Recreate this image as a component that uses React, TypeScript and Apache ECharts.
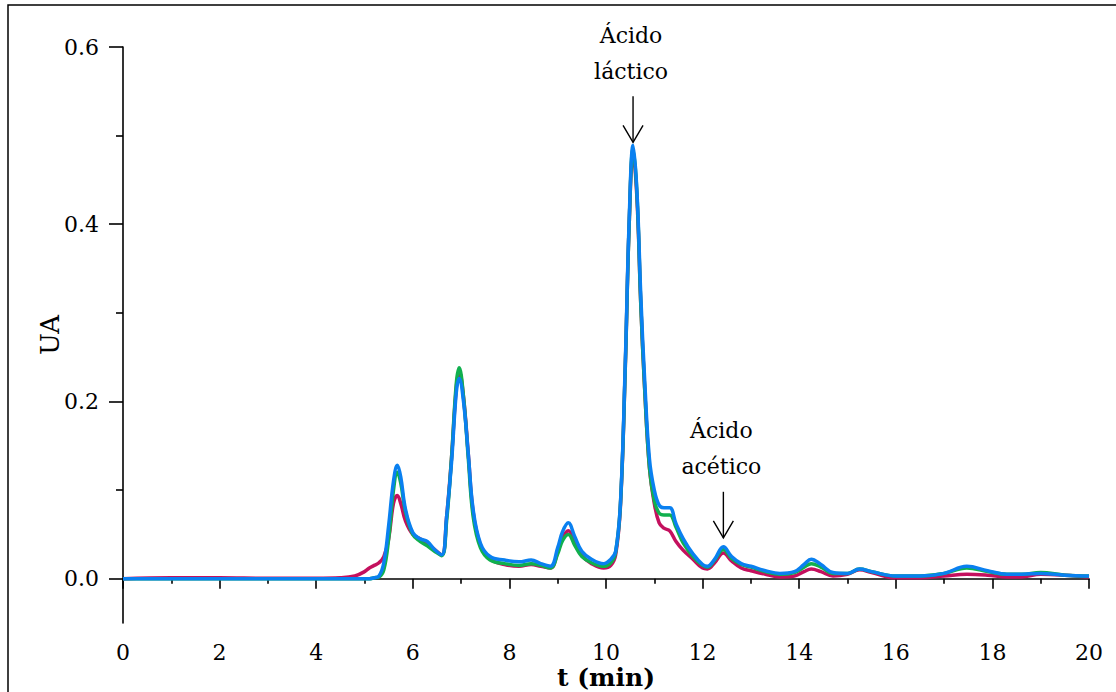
import React, { useEffect, useRef } from "react";
import * as echarts from "echarts";

// Retention time (min)
const t = [
  0, 1, 2, 3, 4, 4.5, 4.8, 5.0, 5.1, 5.2, 5.3, 5.4, 5.5, 5.6, 5.68, 5.75, 5.85, 6.0, 6.15, 6.3,
  6.45, 6.6, 6.7, 6.8, 6.9, 6.96, 7.05, 7.15, 7.25, 7.4, 7.6, 7.9, 8.2, 8.45, 8.65, 8.85, 9.0, 9.1,
  9.22, 9.35, 9.5, 9.7, 9.95, 10.1, 10.2, 10.3, 10.4, 10.48, 10.56, 10.64, 10.72, 10.8, 10.9, 11.0,
  11.1, 11.2, 11.32, 11.45, 11.6, 11.8, 12.0, 12.1, 12.25, 12.43, 12.6, 12.8, 13.0, 13.3, 13.6,
  13.9, 14.1, 14.25, 14.45, 14.7, 15.0, 15.25, 15.5, 16.0, 16.5, 17.0, 17.47, 17.9, 18.3, 18.6,
  19.0, 19.5, 20,
];

const crimson = [
  0, 0.001, 0.001, 0.0005, 0.0005, 0.001, 0.003, 0.008, 0.012, 0.015, 0.018, 0.025, 0.045, 0.085,
  0.094, 0.085, 0.065, 0.05, 0.045, 0.04, 0.033, 0.027, 0.07, 0.135, 0.215, 0.234, 0.205, 0.14,
  0.075, 0.038, 0.022, 0.016, 0.014, 0.016, 0.014, 0.012, 0.03, 0.046, 0.054, 0.04, 0.026, 0.017,
  0.012, 0.015, 0.027, 0.083, 0.24, 0.4, 0.48, 0.43, 0.31, 0.215, 0.125, 0.085, 0.063, 0.057,
  0.054, 0.042, 0.032, 0.022, 0.012, 0.011, 0.018, 0.029, 0.02, 0.012, 0.009, 0.005, 0.002, 0.003,
  0.008, 0.011, 0.008, 0.003, 0.005, 0.01, 0.007, 0.001, 0.001, 0.003, 0.005, 0.004, 0.002, 0.002,
  0.005, 0.004, 0.002,
];

const green = [
  0, 0, 0, 0, 0, 0, 0, 0, 0, 0.001, 0.002, 0.01, 0.045, 0.1, 0.12, 0.108, 0.075, 0.05, 0.042,
  0.037, 0.031, 0.026, 0.065, 0.135, 0.22, 0.238, 0.205, 0.135, 0.07, 0.035, 0.021, 0.017, 0.015,
  0.017, 0.015, 0.012, 0.028, 0.043, 0.05, 0.038, 0.025, 0.018, 0.014, 0.018, 0.03, 0.085, 0.24,
  0.4, 0.485, 0.435, 0.31, 0.215, 0.125, 0.088, 0.074, 0.072, 0.072, 0.058, 0.04, 0.025, 0.015,
  0.013, 0.021, 0.033, 0.023, 0.016, 0.013, 0.008, 0.005, 0.007, 0.013, 0.017, 0.013, 0.006, 0.006,
  0.011, 0.008, 0.003, 0.003, 0.006, 0.012, 0.008, 0.005, 0.005, 0.007, 0.004, 0.003,
];

const blue = [
  0, 0, 0, 0, 0, 0, 0, 0, 0, 0.001, 0.003, 0.018, 0.06, 0.11, 0.128, 0.115, 0.078, 0.052, 0.045,
  0.042, 0.033, 0.027, 0.07, 0.13, 0.21, 0.226, 0.2, 0.14, 0.078, 0.04, 0.025, 0.021, 0.019, 0.021,
  0.017, 0.014, 0.035, 0.053, 0.063, 0.048, 0.031, 0.022, 0.017, 0.022, 0.031, 0.086, 0.245, 0.405,
  0.489, 0.438, 0.32, 0.225, 0.135, 0.1, 0.083, 0.08, 0.08, 0.062, 0.045, 0.028, 0.016, 0.014,
  0.022, 0.036, 0.025, 0.017, 0.014, 0.009, 0.006, 0.008, 0.016, 0.022, 0.016, 0.007, 0.006, 0.011,
  0.008, 0.003, 0.003, 0.006, 0.014, 0.009, 0.005, 0.005, 0.006, 0.004, 0.003,
];

const yMajorTicks = [0, 0.2, 0.4, 0.6];
const yMinorTicks = [0.1, 0.3, 0.5];

const annotations = [
  { lines: ["Ácido", "láctico"], at: [10.56, 0.489], gap: 3 },
  { lines: ["Ácido", "acético"], at: [12.43, 0.036], gap: 9 },
];

const FONT = "DejaVu Serif";

export default function App() {
  const ref = useRef<HTMLDivElement>(null);

  useEffect(() => {
    if (!ref.current) return;
    const chart = echarts.init(ref.current, null, { renderer: "svg" });

    const mk = (arr: number[]) => t.map((x, i) => [x, arr[i]]);
    const lineSeries = (name: string, arr: number[], color: string) => ({
      name,
      type: "line",
      data: mk(arr),
      showSymbol: false,
      smooth: 0.4,
      lineStyle: { color, width: 3.5 },
      itemStyle: { color },
    });

    chart.setOption({
      animation: false,
      backgroundColor: "#fff",
      grid: { left: 123, right: 27, top: 47, bottom: 69, outerBoundsMode: "none", containLabel: false },
      xAxis: {
        type: "value",
        min: 0,
        max: 20,
        interval: 2,
        axisLine: { lineStyle: { color: "#000", width: 1.6 } },
        axisTick: { length: 10, lineStyle: { color: "#000", width: 1.6 } },
        minorTick: { show: true, splitNumber: 2, length: 5, lineStyle: { color: "#000", width: 1.6 } },
        splitLine: { show: false },
        axisLabel: { fontFamily: FONT, fontSize: 22, color: "#000", margin: 18 },
        name: "t (min)",
        nameLocation: "middle",
        nameGap: 42,
        nameMoveOverlap: false,
        nameTextStyle: { fontFamily: FONT, fontSize: 25, fontWeight: "bold", color: "#000" },
      },
      yAxis: [
        {
          type: "value",
          min: -0.05,
          max: 0.6,
          position: "left",
          axisLine: { show: true, lineStyle: { color: "#000", width: 1.6 } },
          axisTick: { show: true, customValues: yMajorTicks, length: 14, lineStyle: { color: "#000", width: 1.6 } },
          axisLabel: {
            customValues: yMajorTicks,
            formatter: (v: number) => v.toFixed(1),
            fontFamily: FONT,
            fontSize: 22,
            color: "#000",
            margin: 24,
          },
          splitLine: { show: false },
          name: "UA",
          nameLocation: "middle",
          nameGap: 60,
          nameMoveOverlap: false,
          nameRotate: 90,
          nameTextStyle: { fontFamily: FONT, fontSize: 26, color: "#000" },
        },
        {
          type: "value",
          min: -0.05,
          max: 0.6,
          position: "left",
          offset: 0,
          axisLine: { show: false },
          axisTick: { show: true, customValues: yMinorTicks, length: 7, lineStyle: { color: "#000", width: 1.6 } },
          axisLabel: { show: false },
          splitLine: { show: false },
        },
      ],
      series: [
        lineSeries("A", crimson, "#c4105e"),
        lineSeries("B", green, "#10b04e"),
        lineSeries("C", blue, "#0a80f0"),
      ],
    });

    const graphics: any[] = [
      {
        type: "polyline",
        shape: { points: [[8, 692], [8, 5], [1116, 5]] },
        style: { stroke: "#000", lineWidth: 1.5, fill: null },
        silent: true,
      },
    ];
    annotations.forEach((a) => {
      const p = chart.convertToPixel({ gridIndex: 0 }, a.at) as number[];
      const x = p[0];
      const tip = p[1] - a.gap;
      graphics.push(
        {
          type: "line",
          shape: { x1: x, y1: tip - 46, x2: x, y2: tip },
          style: { stroke: "#000", lineWidth: 1.4 },
        },
        {
          type: "polyline",
          shape: { points: [[x - 10, tip - 17], [x, tip], [x + 10, tip - 17]] },
          style: { stroke: "#000", lineWidth: 1.4, fill: null },
        },
        {
          type: "text",
          x: x - 2,
          y: tip - 107,
          style: { text: a.lines[0], font: `22px '${FONT}'`, fill: "#000", align: "center", verticalAlign: "middle" },
        },
        {
          type: "text",
          x: x - 2,
          y: tip - 71,
          style: { text: a.lines[1], font: `22px '${FONT}'`, fill: "#000", align: "center", verticalAlign: "middle" },
        }
      );
    });
    chart.setOption({ graphic: graphics });

    return () => chart.dispose();
  }, []);

  return (
    <div
      ref={ref}
      style={{ position: "absolute", left: 0, top: 0, width: 1116, height: 692 }}
    />
  );
}
